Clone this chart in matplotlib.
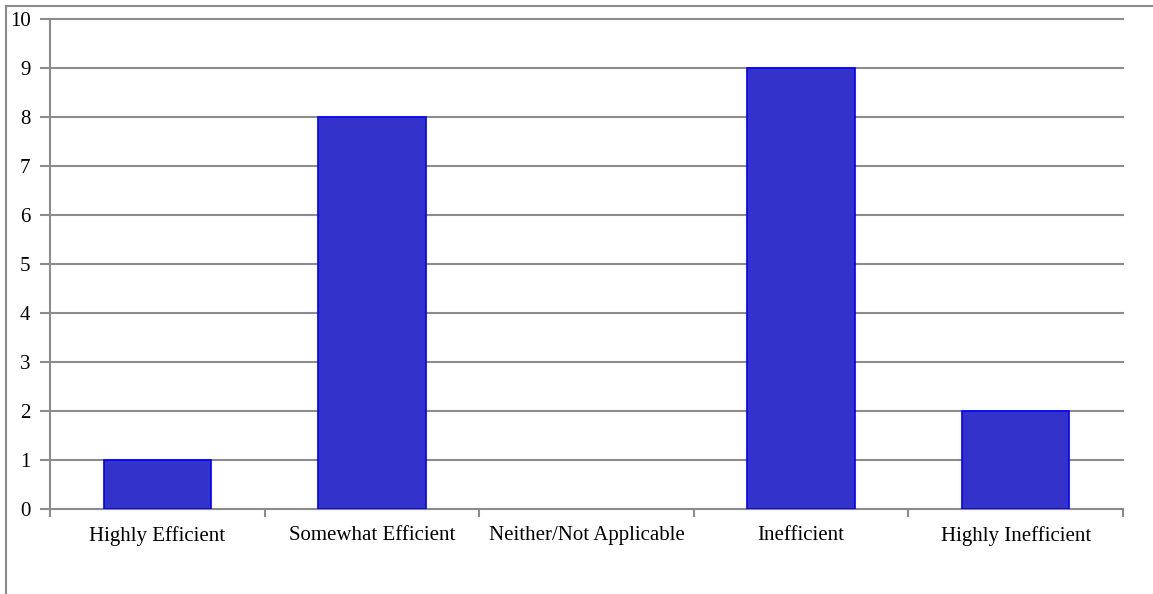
import matplotlib
matplotlib.use('Agg')
import matplotlib.pyplot as plt
from matplotlib.lines import Line2D

categories = ['Highly Efficient', 'Somewhat Efficient', 'Neither/Not Applicable',
              'Inefficient', 'Highly Inefficient']
counts = [1, 8, 0, 9, 2]
y_ticks = list(range(0, 11))

W, H = 1153, 594
fig = plt.figure(figsize=(W / 100, H / 100), dpi=100)
plt.rcParams['font.family'] = ['Liberation Serif', 'DejaVu Serif']

# plot area in pixel coordinates
left, right, top, bottom = 50, 1123, 19, 509
ax = fig.add_axes([left / W, (H - bottom) / H, (right - left) / W, (bottom - top) / H])

grid_col = '#8c8c8c'
x = list(range(len(categories)))
# empty categories get no outline
edge_w = [1.2 if c > 0 else 0 for c in counts]
ax.bar(x, counts, width=0.5, color='#3333cc', edgecolor='#0000ff', linewidth=edge_w, zorder=3)

ax.set_xlim(-0.5, len(categories) - 0.5)
ax.set_ylim(0, 10)
ax.set_yticks(y_ticks)
ax.set_yticklabels([str(v) for v in y_ticks], fontsize=15)
ax.yaxis.grid(True, color=grid_col, linewidth=1.5, zorder=0)
for gl in ax.get_ygridlines():
    gl.set_clip_on(False)
ax.set_axisbelow(True)

# category labels centred, ticks on the boundaries
ax.set_xticks(x)
ax.set_xticklabels(categories, fontsize=15)
ax.tick_params(axis='x', length=0, pad=12)
ax.set_xticks([i - 0.5 for i in range(len(categories) + 1)], minor=True)
ax.tick_params(axis='x', which='minor', length=6, width=1.5, color=grid_col, direction='out')
ax.tick_params(axis='y', length=7, width=1.5, color=grid_col, pad=7)

for side in ['top', 'right']:
    ax.spines[side].set_visible(False)
for side in ['left', 'bottom']:
    ax.spines[side].set_color(grid_col)
    ax.spines[side].set_linewidth(1.5)

# outer frame (left and top edges)
fig.add_artist(Line2D([6 / W, 6 / W], [0, 1 - 6 / H], color=grid_col, linewidth=1.5))
fig.add_artist(Line2D([6 / W, 1], [1 - 6 / H, 1 - 6 / H], color=grid_col, linewidth=1.5))

fig.savefig('out.png', dpi=100)
